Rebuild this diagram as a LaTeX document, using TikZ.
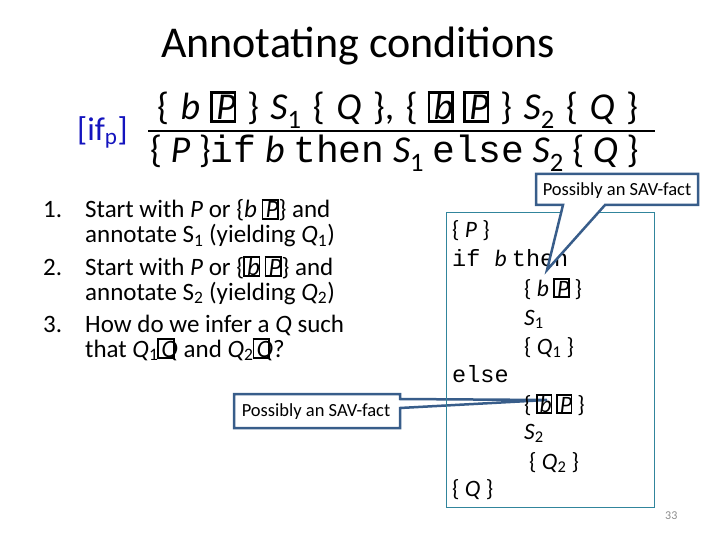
\documentclass[tikz,border=0pt]{standalone}
\usepackage{fontspec}
\setmainfont{Carlito}
\newfontfamily\codefont{Liberation Mono}
\definecolor{ifblue}{RGB}{20,20,190}
\definecolor{calloutc}{RGB}{56,93,138}
\definecolor{boxc}{RGB}{49,133,156}
\definecolor{pagegray}{RGB}{140,140,140}
\newcommand\tofu{\makebox[0.12em][l]{\hspace{-0.04em}\setlength\fboxsep{0pt}\setlength\fboxrule{0.07em}\fbox{\rule{0pt}{0.68em}\rule{0.55em}{0pt}}}}
\newcommand\cw[1]{{\codefont #1}}
\newcommand\sbs[1]{\textsubscript{#1}}
\tikzset{
  txt/.style={inner sep=0pt, anchor=base west},
  listtxt/.style={txt, font=\fontsize{25}{29}\selectfont},
  codetxt/.style={txt, font=\fontsize{23.5}{27}\selectfont},
  callout/.style={draw=calloutc, line width=2.5pt, fill=white, line join=miter},
  callouttxt/.style={inner sep=0pt, anchor=center, font=\fontsize{18.5}{22}\selectfont},
}
\begin{document}
\begin{tikzpicture}[x=1pt, y=-1pt]
\useasboundingbox (0,0) rectangle (720,540);
% title
\node[inner sep=0pt, anchor=base, font=\fontsize{44}{52}\selectfont] (title) at (358,58) {Annotating conditions};
% rule
\node[txt, text=ifblue, font=\fontsize{33}{38}\selectfont] (rule) at (77,141) {[if\sbs{p}]};
\node[txt, font=\fontsize{38}{44}\selectfont] (num) at (157,120) {\spaceskip=0.3em\relax\{ \textit{b} \tofu\textit{P} \} \textit{S}\sbs{1} \{ \textit{Q} \}, \{ \tofu\textit{b} \tofu\textit{P} \} \textit{S}\sbs{2} \{ \textit{Q} \}};
\coordinate (barL) at (148,131);
\coordinate (barR) at (655,131);
\draw[line width=2.2pt] (barL) -- (barR);
\node[txt, font=\fontsize{38}{44}\selectfont] (den) at (150,163) {\{ \textit{P} \}\cw{if} \textit{b} \cw{then} \textit{S}\sbs{1} \cw{else} \textit{S}\sbs{2} \{ \textit{Q} \}};
% list
\node[listtxt] (n1) at (43,218) {1.};
\node[listtxt] (l1) at (85,218) {Start with \textit{P} or \{\textit{b} \tofu\textit{P}\} and};
\node[listtxt] (l2) at (85,243) {annotate S\sbs{1} (yielding \textit{Q}\sbs{1})};
\node[listtxt] (n2) at (43,275) {2.};
\node[listtxt] (l3) at (85,275) {Start with \textit{P} or \{\tofu\textit{b} \tofu\textit{P}\} and};
\node[listtxt] (l4) at (85,300) {annotate S\sbs{2} (yielding \textit{Q}\sbs{2})};
\node[listtxt] (n3) at (43,332) {3.};
\node[listtxt] (l5) at (85,332) {How do we infer a \textit{Q} such};
\node[listtxt] (l6) at (85,357) {that \textit{Q}\sbs{1}\tofu\textit{Q} and \textit{Q}\sbs{2}\tofu\textit{Q}?};
% callout 2 (behind box border)
\coordinate (tip2) at (547,400);
\draw[callout] (234,394) -- (400,394) -- (400,399) -- (tip2) -- (400,408) -- (400,428) -- (234,428) -- cycle;
\node[callouttxt] (sav2) at (316,412) {Possibly an SAV-fact};
% code box
\draw[boxc, line width=1pt] (446,213) rectangle (654,507);
\node[codetxt] (c1) at (452,237) {\{ \textit{P} \}};
\node[codetxt] (c2) at (452,266) {\cw{if }\textit{b} \cw{then}};
\node[codetxt] (c3) at (524,296) {\{ \textit{b} \tofu\textit{P} \}};
\node[codetxt] (c4) at (524,325) {\textit{S}\sbs{1}};
\node[codetxt] (c5) at (524,354) {\{ \textit{Q}\sbs{1} \}};
\node[codetxt] (c6) at (452,382) {\cw{else}};
\node[codetxt] (c7) at (524,412) {\{ \tofu\textit{b} \tofu\textit{P} \}};
\node[codetxt] (c8) at (524,439) {\textit{S}\sbs{2}};
\node[codetxt] (c9) at (529,469) {\{ \textit{Q}\sbs{2} \}};
\node[codetxt] (c10) at (452,496) {\{ \textit{Q} \}};
% callout 1
\coordinate (tip1) at (547,270);
\draw[callout] (536,174) -- (698,174) -- (698,205) -- (605,205) -- (tip1) -- (563,205) -- (536,205) -- cycle;
\node[callouttxt] (sav1) at (617,191) {Possibly an SAV-fact};
% page number
\node[txt, text=pagegray, font=\fontsize{12}{14}\selectfont] (pg) at (665,519) {33};
\end{tikzpicture}
\end{document}
